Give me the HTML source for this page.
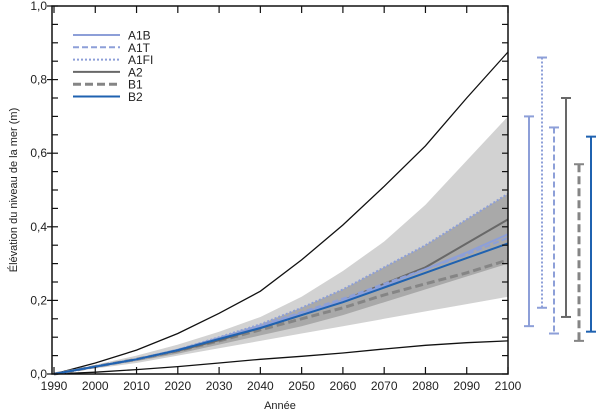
<!DOCTYPE html>
<html><head><meta charset="utf-8"><style>
html,body{margin:0;padding:0;background:#fff;}
svg text{font-family:"Liberation Sans",sans-serif;fill:#222;}
</style></head><body>
<svg id="c" width="600" height="413" viewBox="0 0 600 413"></svg>
<script>
const years=[1990,2000,2010,2020,2030,2040,2050,2060,2070,2080,2090,2100];
const outerTop=[0,.03,.065,.11,.165,.225,.31,.405,.51,.62,.75,.875];
const outerBottom=[0,.005,.012,.02,.03,.04,.048,.057,.068,.078,.085,.09];
const lightUpper=[0,.025,.05,.08,.115,.155,.21,.28,.36,.46,.58,.70];
const lightLower=[0,.015,.03,.05,.07,.09,.11,.13,.15,.17,.19,.21];
const darkUpper=[0,.02,.04,.065,.1,.135,.18,.23,.29,.35,.42,.49];
const darkLower=[0,.018,.035,.055,.08,.105,.13,.16,.195,.23,.265,.30];
const sA1B=[0,.02,.04,.065,.097,.13,.165,.2,.24,.285,.33,.38];
const sA1T=[0,.02,.04,.066,.098,.132,.168,.205,.245,.285,.325,.37];
const sA1FI=[0,.02,.04,.066,.1,.135,.18,.23,.29,.35,.42,.49];
const sA2=[0,.02,.04,.063,.092,.125,.16,.2,.245,.29,.355,.42];
const sB1=[0,.02,.04,.063,.09,.12,.15,.18,.215,.245,.275,.31];
const sB2=[0,.02,.04,.065,.095,.125,.16,.195,.235,.275,.315,.355];
const rangeNames=["A1B","A1FI","A1T","A2","B1","B2"];
const rangeLow=[0.13,0.18,0.11,0.155,0.09,0.115];
const rangeHigh=[0.70,0.86,0.67,0.75,0.57,0.645];
const xTicks=[1990,2000,2010,2020,2030,2040,2050,2060,2070,2080,2090,2100];
const yTicks=[0,0.2,0.4,0.6,0.8,1.0];
const yTickLabels=["0,0","0,2","0,4","0,6","0,8","1,0"];

const L=52,R=508,T=6,B=374;
const X=y=>54+(y-1990)/110*(R-54);
const Y=v=>B-v*(B-T);
const svg=document.getElementById('c');
const NS='http://www.w3.org/2000/svg';
function mk(t,a,parent){const e=document.createElementNS(NS,t);for(const k in a)e.setAttribute(k,a[k]);(parent||svg).appendChild(e);return e;}
function linePts(arr){return arr.map((v,i)=>X(years[i]).toFixed(1)+','+Y(v).toFixed(1)).join(' ');}
function band(up,lo){return linePts(up)+' '+lo.map((v,i)=>[X(years[i]),Y(v)]).reverse().map(p=>p[0].toFixed(1)+','+p[1].toFixed(1)).join(' ');}

let e=mk('polygon',{points:band(lightUpper,lightLower),fill:'#d2d2d2'});

e=mk('polygon',{points:band(darkUpper,darkLower),fill:'#a9a9a9'});

e=mk('polyline',{points:linePts(outerTop),fill:'none',stroke:'#111','stroke-width':1.3});

e=mk('polyline',{points:linePts(outerBottom),fill:'none',stroke:'#111','stroke-width':1.3});


const styles={A1B:['#8d9fd8','',2],A1T:['#8d9fd8','6,3',2],A1FI:['#8d9fd8','2,2',2],A2:['#686868','',2],B1:['#858585','8,4',3],B2:['#1f62b0','',2]};
const seriesData={A1B:sA1B,A1T:sA1T,A1FI:sA1FI,A2:sA2,B1:sB1,B2:sB2};
["B1","A2","A1T","A1FI","A1B","B2"].forEach(n=>{
  const s=styles[n];
  const el=mk('polyline',{points:linePts(seriesData[n]),fill:'none',stroke:s[0],'stroke-width':s[2],'stroke-dasharray':s[1]});
  
  
});

// frame
e=mk('rect',{x:L,y:T,width:R-L,height:B-T,fill:'none',stroke:'#111','stroke-width':1.5});

for(let v=0;v<=1.0001;v+=0.05){
  const y=Y(v);
  mk('line',{x1:L,x2:L+6,y1:y,y2:y,stroke:'#111','stroke-width':1.2});
  mk('line',{x1:R,x2:R-6,y1:y,y2:y,stroke:'#111','stroke-width':1.2});
}
yTicks.forEach((v,i)=>{
  mk('line',{x1:L-5,x2:L,y1:Y(v),y2:Y(v),stroke:'#111','stroke-width':1.2});
  const t=mk('text',{x:L-5,y:Y(v)+4,'text-anchor':'end','font-size':12});
  t.textContent=yTickLabels[i];
  
  
});
xTicks.forEach(yr=>{
  const x=X(yr);
  mk('line',{x1:x,x2:x,y1:B,y2:B-7,stroke:'#111','stroke-width':1.2});
  mk('line',{x1:x,x2:x,y1:T,y2:T+7,stroke:'#111','stroke-width':1.2});
  const t=mk('text',{x:x,y:390,'text-anchor':'middle','font-size':12});
  t.textContent=yr;
  
  
});
e=mk('text',{x:280,y:409,'text-anchor':'middle','font-size':11});
e.textContent='Année';

e=mk('text',{x:0,y:0,'text-anchor':'middle','font-size':11,transform:'translate(17,190) rotate(-90)'});
e.textContent='Élévation du niveau de la mer (m)';


// legend
const legNames=["A1B","A1T","A1FI","A2","B1","B2"];
legNames.forEach((n,i)=>{
  const y=35+i*12.3;const s=styles[n];
  const g=mk('g',{});
  
  
  mk('line',{x1:73,x2:120,y1:y,y2:y,stroke:s[0],'stroke-width':s[2],'stroke-dasharray':s[1]},g);
  const t=mk('text',{x:128,y:y+4.5,'font-size':12},g);t.textContent=n;
});

// range bars
const rxs=[529,542,554,566,579,591];
rangeNames.forEach((n,i)=>{
  const s=styles[n];const x=rxs[i];
  const g=mk('g',{});
  
  
  mk('line',{x1:x,x2:x,y1:Y(rangeHigh[i]),y2:Y(rangeLow[i]),stroke:s[0],'stroke-width':s[2],'stroke-dasharray':s[1]},g);
  mk('line',{x1:x-5,x2:x+5,y1:Y(rangeHigh[i]),y2:Y(rangeHigh[i]),stroke:s[0],'stroke-width':2},g);
  mk('line',{x1:x-5,x2:x+5,y1:Y(rangeLow[i]),y2:Y(rangeLow[i]),stroke:s[0],'stroke-width':2},g);
});
</script>
</body></html>
